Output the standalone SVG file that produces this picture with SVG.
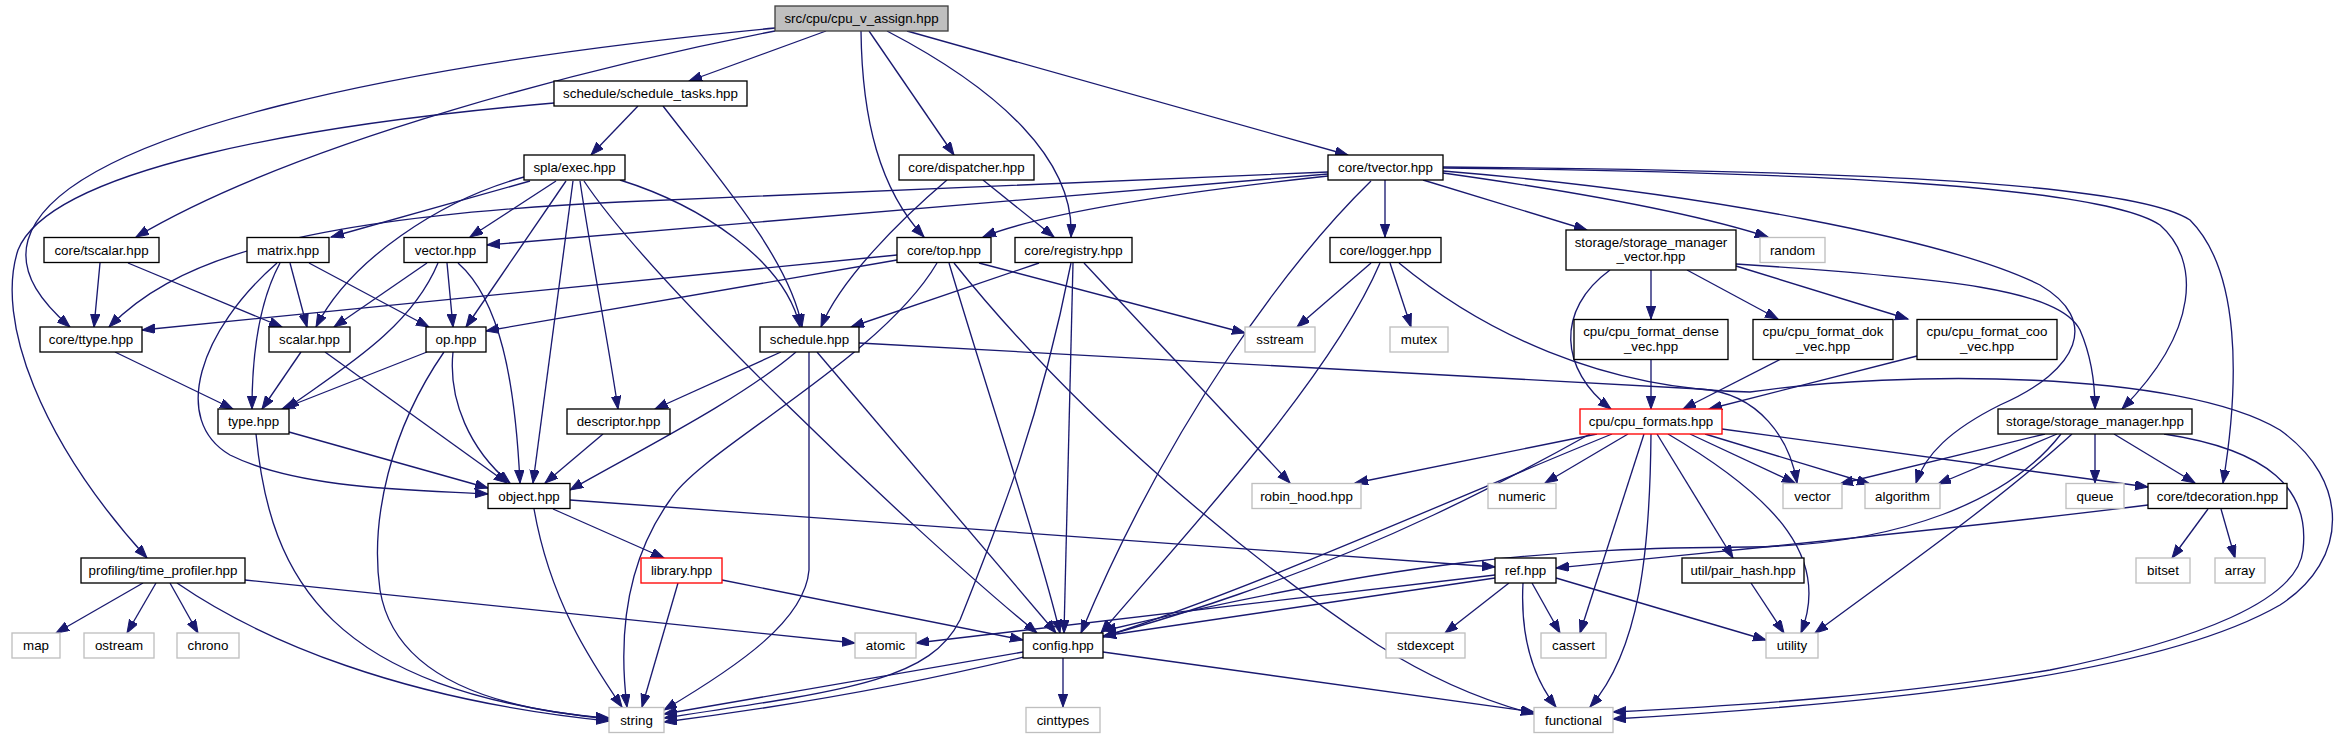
<svg xmlns="http://www.w3.org/2000/svg" width="2339" height="739" viewBox="0 0 2339 739">
<style>
.n{fill:#fff;stroke:#000;stroke-width:1.33}
.r{fill:#bfbfbf;stroke:#404040;stroke-width:1.33}
.x{fill:#fff;stroke:#bfbfbf;stroke-width:1.33}
.t{fill:#fff;stroke:#ff0000;stroke-width:1.33}
text{font-family:"Liberation Sans",Arial,Helvetica,sans-serif;font-size:13.33px;fill:#000;text-anchor:middle}
.e{fill:none;stroke:#191970;stroke-width:1.33;marker-end:url(#ah)}
</style>
<defs>
<marker id="ah" markerUnits="userSpaceOnUse" markerWidth="15" markerHeight="11" refX="13" refY="4.7" orient="auto">
<path d="M0,0 L13,4.7 L0,9.4 z" fill="#191970" stroke="#191970" stroke-width="1"/>
</marker>
</defs>
<rect width="2339" height="739" fill="#fff"/>
<g id="edges">
<path class="e" d="M826,31 L689,81"/>
<path class="e" d="M775,31 C600,65 300,140 136,237"/>
<path class="e" d="M775,28 C420,62 60,130 28,240 C18,275 45,305 70,327"/>
<path class="e" d="M861,31 C862,120 880,190 924,237"/>
<path class="e" d="M869,31 L954,155"/>
<path class="e" d="M887,31 C1000,90 1075,160 1071,237"/>
<path class="e" d="M907,31 L1348,155"/>
<path class="e" d="M638,106 L591,155"/>
<path class="e" d="M663,106 C720,180 790,260 802,327"/>
<path class="e" d="M554,103 C300,125 50,170 18,250 C-5,320 40,440 147,558"/>
<path class="e" d="M530,181 L331,237"/>
<path class="e" d="M556,181 L470,237"/>
<path class="e" d="M524,177 C440,200 350,260 316,327"/>
<path class="e" d="M566,181 L466,327"/>
<path class="e" d="M573,181 L533,483"/>
<path class="e" d="M580,181 C590,250 608,340 618,409"/>
<path class="e" d="M584,181 C650,280 900,520 1037,633"/>
<path class="e" d="M620,180 C700,205 785,260 800,327"/>
<path class="e" d="M947,180 C900,220 840,280 821,327"/>
<path class="e" d="M983,180 L1054,237"/>
<path class="e" d="M1328,172 L620,202 C280,218 170,265 109,327"/>
<path class="e" d="M1328,174 L487,245"/>
<path class="e" d="M1328,176 C1200,190 1050,210 983,237"/>
<path class="e" d="M1385,180 L1385,237"/>
<path class="e" d="M1423,180 L1587,230"/>
<path class="e" d="M1443,173 C1600,195 1700,215 1768,237"/>
<path class="e" d="M1443,171 C1700,192 1950,240 2040,285 C2100,320 2080,370 2000,405 C1950,430 1925,455 1916,483"/>
<path class="e" d="M1443,168 C1800,172 2100,185 2160,225 C2200,260 2200,330 2122,409"/>
<path class="e" d="M1443,167 C1800,170 2130,180 2190,220 C2240,270 2240,380 2223,483"/>
<path class="e" d="M1371,181 C1290,260 1170,420 1081,633"/>
<path class="e" d="M100,263 L94,327"/>
<path class="e" d="M128,263 L282,327"/>
<path class="e" d="M290,263 L307,327"/>
<path class="e" d="M280,263 C260,300 252,350 252,409"/>
<path class="e" d="M277,263 C200,330 170,420 230,455 C300,490 420,490 488,494"/>
<path class="e" d="M309,263 L429,327"/>
<path class="e" d="M427,263 L334,327"/>
<path class="e" d="M447,263 L453,327"/>
<path class="e" d="M438,263 C410,330 340,370 286,409"/>
<path class="e" d="M458,263 C500,300 515,380 520,483"/>
<path class="e" d="M897,255 L142,330"/>
<path class="e" d="M897,260 L486,331"/>
<path class="e" d="M979,263 L1245,333"/>
<path class="e" d="M937,263 C880,360 700,450 670,500 C620,570 620,650 627,707"/>
<path class="e" d="M949,263 C990,400 1040,550 1060,633"/>
<path class="e" d="M954,263 C1080,420 1250,560 1378,645 C1430,678 1480,700 1534,714"/>
<path class="e" d="M1039,263 L851,327"/>
<path class="e" d="M1071,263 C1040,420 1000,520 960,620 C930,680 850,690 664,718"/>
<path class="e" d="M1073,263 L1064,633"/>
<path class="e" d="M1084,263 L1290,483"/>
<path class="e" d="M1371,263 L1297,327"/>
<path class="e" d="M1390,263 L1411,327"/>
<path class="e" d="M1380,263 C1330,380 1180,540 1101,633"/>
<path class="e" d="M1399,263 C1480,330 1600,390 1750,392 C1900,370 2180,370 2280,430 C2350,480 2350,560 2280,605 C2150,680 1850,705 1613,719"/>
<path class="e" d="M2164,434 C2270,450 2310,490 2303,550 C2298,600 2200,640 2050,670 C1900,695 1750,705 1613,712"/>
<path class="e" d="M1651,270 L1651,319"/>
<path class="e" d="M1610,270 C1555,310 1560,370 1611,409"/>
<path class="e" d="M1687,270 L1778,319"/>
<path class="e" d="M1736,266 L1908,319"/>
<path class="e" d="M1736,264 C1950,278 2060,290 2080,330 C2093,360 2095,390 2095,409"/>
<path class="e" d="M115,352 L233,409"/>
<path class="e" d="M301,352 L262,409"/>
<path class="e" d="M325,352 L507,483"/>
<path class="e" d="M427,352 L282,409"/>
<path class="e" d="M453,352 C448,400 470,450 510,483"/>
<path class="e" d="M444,352 C390,430 370,520 380,590 C395,680 500,710 609,718"/>
<path class="e" d="M781,352 L655,409"/>
<path class="e" d="M796,352 C740,400 640,450 570,490"/>
<path class="e" d="M809,352 L809,570 C805,620 740,665 664,710"/>
<path class="e" d="M817,352 L1056,633"/>
<path class="e" d="M859,343 L1700,389 C1760,393 1790,440 1797,483"/>
<path class="e" d="M1651,359 L1651,409"/>
<path class="e" d="M1781,359 L1683,409"/>
<path class="e" d="M1917,356 L1709,409"/>
<path class="e" d="M289,432 L488,488"/>
<path class="e" d="M256,434 C270,580 330,690 609,719"/>
<path class="e" d="M603,434 L545,483"/>
<path class="e" d="M1597,434 L1355,483"/>
<path class="e" d="M1628,434 L1545,483"/>
<path class="e" d="M1690,434 L1795,483"/>
<path class="e" d="M1705,434 L1870,484"/>
<path class="e" d="M1722,429 L2148,487"/>
<path class="e" d="M1668,434 C1780,500 1830,560 1801,633"/>
<path class="e" d="M1657,434 L1733,558"/>
<path class="e" d="M1651,434 C1650,550 1640,650 1590,707"/>
<path class="e" d="M1644,434 L1580,633"/>
<path class="e" d="M1612,434 C1450,500 1250,590 1103,637"/>
<path class="e" d="M1590,434 C1400,540 1150,660 664,722"/>
<path class="e" d="M2045,434 L1840,484"/>
<path class="e" d="M2057,434 L1938,484"/>
<path class="e" d="M2095,434 L2095,483"/>
<path class="e" d="M2114,434 L2195,483"/>
<path class="e" d="M2072,434 C2000,500 1900,570 1815,633"/>
<path class="e" d="M2061,434 C2010,500 1900,545 1750,547 C1550,548 1400,560 1103,631"/>
<path class="e" d="M553,509 L664,558"/>
<path class="e" d="M534,509 C550,600 590,660 622,707"/>
<path class="e" d="M570,500 L1495,567"/>
<path class="e" d="M2208,509 L2172,558"/>
<path class="e" d="M2221,509 L2235,558"/>
<path class="e" d="M2148,505 C1950,530 1750,548 1556,568"/>
<path class="e" d="M143,583 L56,633"/>
<path class="e" d="M156,583 L127,633"/>
<path class="e" d="M170,583 L198,633"/>
<path class="e" d="M245,580 L855,643"/>
<path class="e" d="M177,583 C260,640 400,700 609,721"/>
<path class="e" d="M678,583 L642,707"/>
<path class="e" d="M722,580 L1023,640"/>
<path class="e" d="M1509,583 L1445,633"/>
<path class="e" d="M1532,583 L1560,633"/>
<path class="e" d="M1523,583 C1520,640 1535,680 1556,707"/>
<path class="e" d="M1495,575 L916,643"/>
<path class="e" d="M1495,578 L1103,636"/>
<path class="e" d="M1556,578 L1766,640"/>
<path class="e" d="M1751,583 L1784,633"/>
<path class="e" d="M1023,652 L664,714"/>
<path class="e" d="M1063,658 L1063,707"/>
<path class="e" d="M1103,652 L1534,712"/>
</g>
<g id="n_root"><rect class="r" x="775" y="6" width="173" height="25"/><text x="861.5" y="23.2">src/cpu/cpu_v_assign.hpp</text></g>
<g id="n_schedule_tasks"><rect class="n" x="554" y="81" width="193" height="25"/><text x="650.5" y="98.2">schedule/schedule_tasks.hpp</text></g>
<g id="n_exec"><rect class="n" x="524" y="155" width="101" height="25"/><text x="574.5" y="172.2">spla/exec.hpp</text></g>
<g id="n_dispatcher"><rect class="n" x="899" y="155" width="135" height="25"/><text x="966.5" y="172.2">core/dispatcher.hpp</text></g>
<g id="n_tvector"><rect class="n" x="1328" y="155" width="115" height="25"/><text x="1385.5" y="172.2">core/tvector.hpp</text></g>
<g id="n_tscalar"><rect class="n" x="44" y="237.5" width="115" height="25"/><text x="101.5" y="254.7">core/tscalar.hpp</text></g>
<g id="n_matrix"><rect class="n" x="247" y="237.5" width="82" height="25"/><text x="288" y="254.7">matrix.hpp</text></g>
<g id="n_vector"><rect class="n" x="404" y="237.5" width="83" height="25"/><text x="445.5" y="254.7">vector.hpp</text></g>
<g id="n_top"><rect class="n" x="897" y="237.5" width="94" height="25"/><text x="944" y="254.7">core/top.hpp</text></g>
<g id="n_registry"><rect class="n" x="1015" y="237.5" width="117" height="25"/><text x="1073.5" y="254.7">core/registry.hpp</text></g>
<g id="n_logger"><rect class="n" x="1330" y="237.5" width="111" height="25"/><text x="1385.5" y="254.7">core/logger.hpp</text></g>
<g id="n_smv"><rect class="n" x="1566" y="230" width="170" height="40"/><text x="1651" y="246.5">storage/storage_manager</text><text x="1651" y="261">_vector.hpp</text></g>
<g id="n_random"><rect class="x" x="1760" y="237.5" width="65" height="25"/><text x="1792.5" y="254.7">random</text></g>
<g id="n_ttype"><rect class="n" x="40" y="327" width="102" height="25"/><text x="91" y="344.2">core/ttype.hpp</text></g>
<g id="n_scalar"><rect class="n" x="269" y="327" width="81" height="25"/><text x="309.5" y="344.2">scalar.hpp</text></g>
<g id="n_op"><rect class="n" x="426" y="327" width="60" height="25"/><text x="456" y="344.2">op.hpp</text></g>
<g id="n_schedule"><rect class="n" x="760" y="327" width="99" height="25"/><text x="809.5" y="344.2">schedule.hpp</text></g>
<g id="n_sstream"><rect class="x" x="1245" y="327" width="70" height="25"/><text x="1280" y="344.2">sstream</text></g>
<g id="n_mutex"><rect class="x" x="1390" y="327" width="58" height="25"/><text x="1419" y="344.2">mutex</text></g>
<g id="n_dense"><rect class="n" x="1574" y="319.5" width="154" height="40"/><text x="1651" y="335.5">cpu/cpu_format_dense</text><text x="1651" y="350.5">_vec.hpp</text></g>
<g id="n_dok"><rect class="n" x="1753" y="319.5" width="140" height="40"/><text x="1823" y="335.5">cpu/cpu_format_dok</text><text x="1823" y="350.5">_vec.hpp</text></g>
<g id="n_coo"><rect class="n" x="1917" y="319.5" width="140" height="40"/><text x="1987" y="335.5">cpu/cpu_format_coo</text><text x="1987" y="350.5">_vec.hpp</text></g>
<g id="n_type"><rect class="n" x="218" y="409" width="71" height="25"/><text x="253.5" y="426.2">type.hpp</text></g>
<g id="n_descriptor"><rect class="n" x="567" y="409" width="103" height="25"/><text x="618.5" y="426.2">descriptor.hpp</text></g>
<g id="n_cpu_formats"><rect class="t" x="1580" y="409" width="142" height="25"/><text x="1651" y="426.2">cpu/cpu_formats.hpp</text></g>
<g id="n_storage_manager"><rect class="n" x="1998" y="409" width="194" height="25"/><text x="2095" y="426.2">storage/storage_manager.hpp</text></g>
<g id="n_object"><rect class="n" x="488" y="483.5" width="82" height="25"/><text x="529" y="500.7">object.hpp</text></g>
<g id="n_robin_hood"><rect class="x" x="1252" y="483.5" width="109" height="25"/><text x="1306.5" y="500.7">robin_hood.hpp</text></g>
<g id="n_numeric"><rect class="x" x="1488" y="483.5" width="68" height="25"/><text x="1522" y="500.7">numeric</text></g>
<g id="n_std_vector"><rect class="x" x="1783" y="483.5" width="59" height="25"/><text x="1812.5" y="500.7">vector</text></g>
<g id="n_algorithm"><rect class="x" x="1865" y="483.5" width="75" height="25"/><text x="1902.5" y="500.7">algorithm</text></g>
<g id="n_queue"><rect class="x" x="2066" y="483.5" width="58" height="25"/><text x="2095" y="500.7">queue</text></g>
<g id="n_tdecoration"><rect class="n" x="2148" y="483.5" width="139" height="25"/><text x="2217.5" y="500.7">core/tdecoration.hpp</text></g>
<g id="n_time_profiler"><rect class="n" x="81" y="558" width="164" height="25"/><text x="163" y="575.2">profiling/time_profiler.hpp</text></g>
<g id="n_library"><rect class="t" x="641" y="558" width="81" height="25"/><text x="681.5" y="575.2">library.hpp</text></g>
<g id="n_ref"><rect class="n" x="1495" y="558" width="61" height="25"/><text x="1525.5" y="575.2">ref.hpp</text></g>
<g id="n_pair_hash"><rect class="n" x="1682" y="558" width="122" height="25"/><text x="1743" y="575.2">util/pair_hash.hpp</text></g>
<g id="n_bitset"><rect class="x" x="2136" y="558" width="54" height="25"/><text x="2163" y="575.2">bitset</text></g>
<g id="n_array"><rect class="x" x="2215" y="558" width="50" height="25"/><text x="2240" y="575.2">array</text></g>
<g id="n_map"><rect class="x" x="12" y="633" width="48" height="25"/><text x="36" y="650.2">map</text></g>
<g id="n_ostream"><rect class="x" x="84" y="633" width="70" height="25"/><text x="119" y="650.2">ostream</text></g>
<g id="n_chrono"><rect class="x" x="177" y="633" width="62" height="25"/><text x="208" y="650.2">chrono</text></g>
<g id="n_atomic"><rect class="x" x="855" y="633" width="61" height="25"/><text x="885.5" y="650.2">atomic</text></g>
<g id="n_config"><rect class="n" x="1023" y="633" width="80" height="25"/><text x="1063" y="650.2">config.hpp</text></g>
<g id="n_stdexcept"><rect class="x" x="1386" y="633" width="79" height="25"/><text x="1425.5" y="650.2">stdexcept</text></g>
<g id="n_cassert"><rect class="x" x="1541" y="633" width="65" height="25"/><text x="1573.5" y="650.2">cassert</text></g>
<g id="n_utility"><rect class="x" x="1766" y="633" width="52" height="25"/><text x="1792" y="650.2">utility</text></g>
<g id="n_string"><rect class="x" x="609" y="707.5" width="55" height="25"/><text x="636.5" y="724.7">string</text></g>
<g id="n_cinttypes"><rect class="x" x="1026" y="707.5" width="74" height="25"/><text x="1063" y="724.7">cinttypes</text></g>
<g id="n_functional"><rect class="x" x="1534" y="707.5" width="79" height="25"/><text x="1573.5" y="724.7">functional</text></g>
</svg>
